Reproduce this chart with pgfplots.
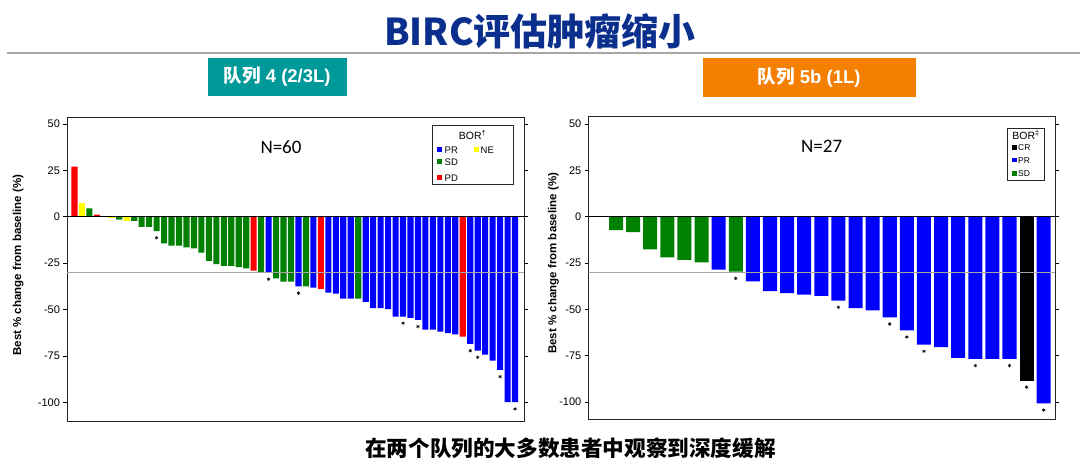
\documentclass[border=0pt]{standalone}
\usepackage{pgfplots}
\pgfplotsset{compat=1.18}
\usepackage{fontspec}
\setmainfont{Liberation Sans}
\newfontfamily\cjk{Noto Sans CJK SC}
\newfontfamily\calib{Carlito}

\definecolor{titleblue}{HTML}{0A2F8C}
\definecolor{boxteal}{HTML}{00999A}
\definecolor{boxorange}{HTML}{F57F00}
\definecolor{pr}{HTML}{0000FF}
\definecolor{sd}{HTML}{008000}
\definecolor{pd}{HTML}{FF0000}
\definecolor{ne}{HTML}{FFFF00}
\definecolor{cr}{HTML}{000000}

\pgfplotsset{
  waterfall/.style={
    scale only axis,
    xtick=\empty,
    ytick={-100,-75,-50,-25,0,25,50},
    tick align=outside,
    major tick length=3.5pt,
    ytick style={black, line width=0.6pt},
    tick label style={font=\fontsize{11}{12}\selectfont},
    /pgf/number format/assume math mode=true,
    axis line style={black!85, line width=0.8pt},
    ylabel={Best \% change from baseline (\%)},
    every axis y label/.style={at={(rel axis cs:0,0.515)}, rotate=90, anchor=center,
      font=\bfseries\fontsize{11.5}{12}\selectfont},
  },
  bars/.style={ybar, bar width=0.82, bar shift=0pt, draw=none, fill=#1},
  stars/.style={only marks, mark=asterisk, mark size=1.8pt, black, mark options={line width=0.55pt}},
}

\begin{document}
\begin{tikzpicture}
\path[use as bounding box] (0pt,0pt) rectangle (1080pt,468pt);

% title and rule
\node[font=\cjk\bfseries\fontsize{37}{40}\selectfont, text=titleblue] at (540pt,437pt) {BIRC评估肿瘤缩小};
\draw[line width=2pt, color=black!35] (7pt,415.3pt) -- (1080pt,415.3pt);

% cohort labels
\node[fill=boxteal, minimum width=139pt, minimum height=38.3pt, inner sep=0pt, text=white,
  font=\bfseries\fontsize{18.5}{20}\selectfont] at (277.2pt,391.2pt) {{\cjk 队列} 4 (2/3L)};
\node[fill=boxorange, minimum width=213pt, minimum height=39.3pt, inner sep=0pt, text=white,
  font=\bfseries\fontsize{18.5}{20}\selectfont] at (809.2pt,390.7pt) {{\cjk 队列} 5b (1L)};

% ---- cohort 4 ----
\begin{axis}[waterfall, at={(67pt,46.3pt)}, anchor=south west,
  width=457pt, height=304pt,
  xmin=0, xmax=61.2, ymin=-110.5, ymax=53.4,
  every axis y label/.append style={yshift=48.7pt}]
\addplot[bars=pd] coordinates {(1,27) (4,1.1) (25,-29) (34,-38.9) (53,-64.7)};
\addplot[bars=ne] coordinates {(2,7.3) (6,-0.6) (8,-2.2)};
\addplot[bars=sd] coordinates {(3,4.5) (5,0) (7,-1.5) (9,-2.2) (10,-5.4) (11,-5.4) (12,-7.7)
  (13,-14.3) (14,-15.6) (15,-15.6) (16,-16.5) (17,-17) (18,-19.4) (19,-23.8) (20,-25.6)
  (21,-26.5) (22,-26.5) (23,-27.2) (24,-27.8) (26,-30.1) (28,-33.2) (29,-35) (30,-35)
  (32,-37.6) (39,-44.1)};
\addplot[bars=pr] coordinates {(27,-30.1) (31,-37.6) (33,-38.2) (35,-40.9) (36,-41.4)
  (37,-44.1) (38,-44.1) (40,-45.9) (41,-49.3) (42,-49.3) (43,-49.8) (44,-53.8) (45,-53.8)
  (46,-54.5) (47,-55.6) (48,-60.8) (49,-60.8) (50,-62) (51,-62.7) (52,-63.4) (54,-68.6)
  (55,-72.2) (56,-74.4) (57,-77.6) (58,-82.6) (59,-100) (60,-100)};
\addplot[black, line width=0.8pt] coordinates {(0,0) (61.2,0)};
\addplot[gray!70, line width=0.9pt] coordinates {(0,-30) (61.2,-30)};
\addplot[stars] coordinates {(12,-11.3) (27,-33.7) (31,-41.2) (45,-57.4) (47,-59.2)
  (54,-72.2) (55,-75.8) (58,-86.2) (60,-103.6)};
\end{axis}

% ---- cohort 5b ----
\begin{axis}[waterfall, at={(588.3pt,49pt)}, anchor=south west,
  width=466.7pt, height=302.3pt,
  xmin=0.38, xmax=27.66, ymin=-109.1, ymax=53.9,
  every axis y label/.append style={yshift=35pt}]
\addplot[bars=sd] coordinates {(1,0) (2,-7.2) (3,-8.4) (4,-17.6) (5,-22) (6,-23.3) (7,-24.6) (9,-29.7)};
\addplot[bars=pr] coordinates {(8,-28.5) (10,-34.9) (11,-40.1) (12,-41.2) (13,-42) (14,-42.7)
  (15,-45.3) (16,-49.3) (17,-50.5) (18,-54.3) (19,-61.3) (20,-69) (21,-70.4) (22,-76.2)
  (23,-76.7) (24,-76.7) (25,-76.7) (27,-100.7)};
\addplot[bars=cr] coordinates {(26,-88.4)};
\addplot[black, line width=0.8pt] coordinates {(0.38,0) (27.66,0)};
\addplot[gray!70, line width=0.9pt] coordinates {(0.38,-30) (27.66,-30)};
\addplot[stars] coordinates {(9,-33.3) (15,-48.9) (18,-57.9) (19,-64.9) (20,-72.6)
  (23,-80.3) (25,-80.3) (26,-92) (27,-104.3)};
\end{axis}

% N labels
\node[font=\calib\fontsize{19}{20}\selectfont] at (281pt,321.3pt) {N=60};
\node[font=\calib\fontsize{19}{20}\selectfont] at (821.7pt,322pt) {N=27};

% legend cohort 4
\draw[black!85, line width=0.7pt, fill=white] (432.3pt,283.3pt) rectangle (513.3pt,342.7pt);
\node[font=\fontsize{10.5}{11}\selectfont] at (472.5pt,333pt) {BOR\textsuperscript{†}};
\fill[pr] (437.3pt,315.5pt) rectangle (442.3pt,320.5pt);
\node[anchor=west, inner sep=0pt, font=\fontsize{9.5}{10}\selectfont] at (444.5pt,317.5pt) {PR};
\fill[ne] (473.5pt,315.5pt) rectangle (478.8pt,320.5pt);
\node[anchor=west, inner sep=0pt, font=\fontsize{9.5}{10}\selectfont] at (480.5pt,317.5pt) {NE};
\fill[sd] (437.3pt,303.5pt) rectangle (442.3pt,308.5pt);
\node[anchor=west, inner sep=0pt, font=\fontsize{9.5}{10}\selectfont] at (444.5pt,305.5pt) {SD};
\fill[pd] (437.3pt,288.2pt) rectangle (442.3pt,293.2pt);
\node[anchor=west, inner sep=0pt, font=\fontsize{9.5}{10}\selectfont] at (444.5pt,290.2pt) {PD};

% legend cohort 5b
\draw[black!85, line width=0.7pt, fill=white] (1007.3pt,288pt) rectangle (1044.3pt,340pt);
\node[font=\fontsize{10.5}{11}\selectfont] at (1026pt,333.5pt) {BOR\textsuperscript{‡}};
\fill[cr] (1012pt,318pt) rectangle (1016.5pt,322.5pt);
\node[anchor=west, inner sep=0pt, font=\fontsize{8.5}{9}\selectfont] at (1018pt,320.3pt) {CR};
\fill[pr] (1012pt,305.5pt) rectangle (1016.5pt,310pt);
\node[anchor=west, inner sep=0pt, font=\fontsize{8.5}{9}\selectfont] at (1018pt,307.7pt) {PR};
\fill[sd] (1012pt,292pt) rectangle (1016.5pt,296.5pt);
\node[anchor=west, inner sep=0pt, font=\fontsize{8.5}{9}\selectfont] at (1018pt,294.3pt) {SD};

% footer
\node[font=\cjk\bfseries\fontsize{21.6}{23}\selectfont] at (570.5pt,20pt) {在两个队列的大多数患者中观察到深度缓解};
\end{tikzpicture}
\end{document}
